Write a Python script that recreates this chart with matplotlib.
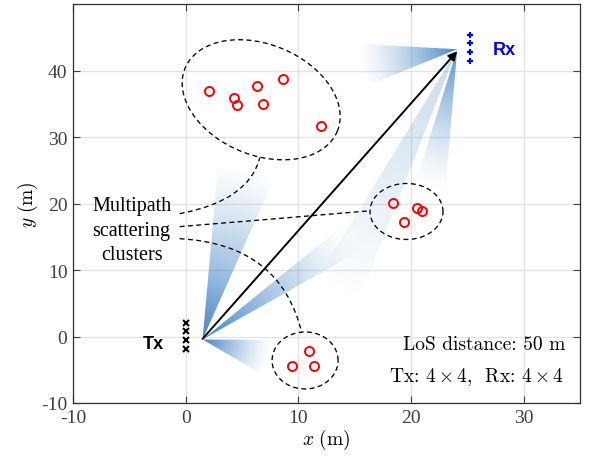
import numpy as np
import matplotlib
matplotlib.use("Agg")
import matplotlib.pyplot as plt
from matplotlib.patches import Polygon, PathPatch
from matplotlib.path import Path

plt.rcParams['mathtext.fontset'] = 'cm'
plt.rcParams['font.family'] = ['Liberation Serif', 'DejaVu Serif']

# ---------------- data ----------------
cluster1_x = [2.07, 4.3, 4.56, 6.31, 6.9, 8.62, 12.03]
cluster1_y = [36.9, 35.9, 34.8, 37.7, 35.0, 38.7, 31.7]
cluster2_x = [18.43, 20.5, 21.0, 19.38]
cluster2_y = [20.07, 19.37, 18.87, 17.2]
cluster3_x = [10.93, 9.45, 11.38]
cluster3_y = [-2.15, -4.4, -4.4]

tx_x = [0.0, 0.0, 0.0, 0.0]
tx_y = [2.1, 0.85, -0.5, -1.85]
rx_x = [25.2, 25.2, 25.2, 25.2]
rx_y = [45.4, 44.1, 42.8, 41.4]

los_start = (1.5, -0.35)
los_end = (24.1, 42.9)

xticks = [-10, 0, 10, 20, 30]
yticks = [-10, 0, 10, 20, 30, 40]

# --------------- figure ---------------
W, H = 593, 460
fig = plt.figure(figsize=(W / 100, H / 100), dpi=100)
ax = fig.add_axes([73 / W, 1 - 404 / H, (580 - 73) / W, (404 - 5) / H])
ax.set_xlim(-10, 35)
ax.set_ylim(-10, 50)

SX = (580 - 73) / 45.0
SY = (404 - 5) / 60.0

ax.set_axisbelow(True)
ax.grid(True, color='#e3e3e3', linewidth=0.9)
ax.set_xticks(xticks)
ax.set_yticks(yticks)
ax.set_xticklabels([str(v) for v in xticks])
ax.set_yticklabels([str(v) for v in yticks])
ax.tick_params(direction='in', top=True, right=True, length=5, width=0.8,
               labelsize=14, colors='#404040', pad=4)
for sp in ax.spines.values():
    sp.set_color('#303030')
    sp.set_linewidth(0.9)

ax.set_xlabel(r'$x\ \mathrm{(m)}$', fontsize=14, labelpad=1)
ax.set_ylabel(r'$y\ \mathrm{(m)}$', fontsize=14, labelpad=1)

# --------------- beams (gradient wedges) ---------------
beam_color = (0.27, 0.52, 0.77)


def beam(origin, e1, e2, amax=1.0, power=1.5, z=1.5):
    ox, oy = origin
    pts = np.array([origin, e1, e2])
    poly = Polygon(pts, closed=True, transform=ax.transData,
                   facecolor='none', edgecolor='none')
    ax.add_patch(poly)
    x0, x1 = pts[:, 0].min(), pts[:, 0].max()
    y0, y1 = pts[:, 1].min(), pts[:, 1].max()
    nx, ny = 300, 300
    X, Y = np.meshgrid(np.linspace(x0, x1, nx), np.linspace(y0, y1, ny))
    r = np.hypot((X - ox) * SX, (Y - oy) * SY)
    rmax = min(np.hypot((e1[0] - ox) * SX, (e1[1] - oy) * SY),
               np.hypot((e2[0] - ox) * SX, (e2[1] - oy) * SY))
    t = np.clip(r / rmax, 0, 1)
    img = np.zeros((ny, nx, 4))
    img[..., 0] = beam_color[0]
    img[..., 1] = beam_color[1]
    img[..., 2] = beam_color[2]
    img[..., 3] = amax * (1 - t) ** power
    im = ax.imshow(img, extent=(x0, x1, y0, y1), origin='lower',
                   aspect='auto', interpolation='bilinear', zorder=z)
    im.set_clip_path(poly)


tx_o = (1.5, -0.45)
rx_o = (24.1, 43.2)
# Tx beams
beam(tx_o, (3.0, 28.0), (7.9, 24.0), 1.0, 1.3)
beam(tx_o, (13.8, 16.5), (15.6, 13.0), 1.0, 1.3)
beam(tx_o, (7.6, -0.5), (7.0, -5.9), 1.0, 1.3)
# Rx beams
beam(rx_o, (9.0, 44.6), (15.8, 37.5), 1.0, 1.4)
beam(rx_o, (20.3, 22.5), (23.0, 21.0), 0.9, 1.4)
beam(rx_o, (9.8, 3.5), (15.2, 4.8), 0.3, 1.0)

# --------------- clusters ---------------
def ellipse_px(cx, cy, a_px, b_px, ang_deg):
    t = np.linspace(0, 2 * np.pi, 300)
    th = np.deg2rad(ang_deg)
    u = a_px * np.cos(t)
    v = b_px * np.sin(t)
    px = u * np.cos(th) - v * np.sin(th)
    py = u * np.sin(th) + v * np.cos(th)
    return cx + px / SX, cy + py / SY


dash = (0, (3.7, 2.6))
for (cx, cy, a, b, ang) in [(6.7, 35.6, 82.4, 55.3, -22.5),
                            (19.6, 18.8, 36.5, 28.0, 0.0),
                            (10.6, -3.6, 33.0, 28.5, 0.0)]:
    ex, ey = ellipse_px(cx, cy, a, b, ang)
    ax.plot(ex, ey, color='black', lw=0.95, linestyle=dash, zorder=3)

curves = [
    [(-0.53, 18.47), (5.6, 20.4), (6.58, 26.9)],
    [(-0.53, 16.52), (8.0, 17.7), (16.3, 18.9)],
    [(-0.53, 14.71), (8.4, 13.9), (10.3, 0.6)],
]
for c in curves:
    path = Path(c, [Path.MOVETO, Path.CURVE3, Path.CURVE3])
    ax.add_patch(PathPatch(path, facecolor='none', edgecolor='black',
                           lw=0.95, linestyle=dash, zorder=3))

ax.text(-4.8, 16.0, 'Multipath\nscattering\nclusters', ha='center',
        va='center', fontsize=14.5, linespacing=1.42, zorder=4)

for xs, ys in [(cluster1_x, cluster1_y), (cluster2_x, cluster2_y),
               (cluster3_x, cluster3_y)]:
    ax.plot(xs, ys, 'o', mfc='none', mec='red', ms=6.5, mew=1.4,
            linestyle='none', zorder=5)

ax.plot(tx_x, tx_y, 'x', color='black', ms=4, mew=1.5, linestyle='none',
        zorder=5)
ax.plot(rx_x, rx_y, '+', color='blue', ms=5, mew=1.6, linestyle='none',
        zorder=5)

ax.text(-2.9, -1.0, 'Tx', family=['Liberation Sans', 'DejaVu Sans'],
        fontweight='bold', fontsize=13, ha='center', va='center', zorder=5)
ax.text(28.3, 43.2, 'Rx', family=['Liberation Sans', 'DejaVu Sans'],
        fontweight='bold', fontsize=13, ha='center', va='center',
        color='blue', zorder=5)

ax.annotate('', xy=los_end, xytext=los_start,
            arrowprops=dict(arrowstyle='-|>', color='black', lw=1.4,
                            mutation_scale=13, shrinkA=0, shrinkB=0),
            zorder=6)

cm_font = ['cmr10', 'Liberation Serif']
ax.text(33.7, -1.2, 'LoS distance: 50 m', family=cm_font, ha='right',
        va='center', fontsize=14, zorder=5)
ax.text(33.6, -6.0, r'Tx: $4\times 4$,  Rx: $4\times 4$', family=cm_font,
        ha='right', va='center', fontsize=14, zorder=5)

fig.savefig('out.png', dpi=100)
